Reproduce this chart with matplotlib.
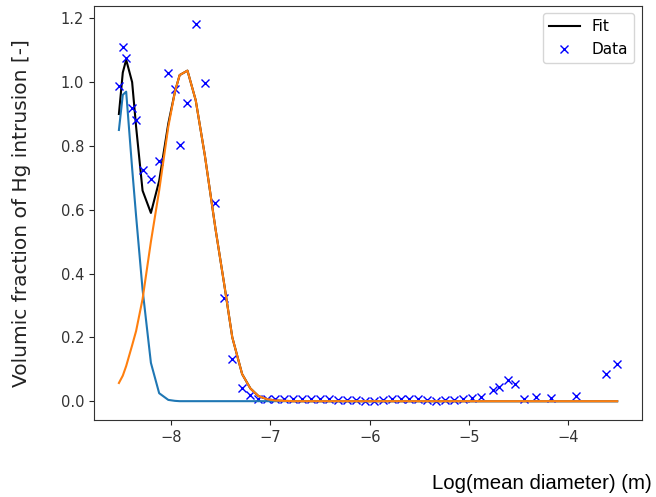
import numpy as np
import matplotlib.pyplot as plt

# log10 of mean pore diameter (m)
log_d = [-8.524, -8.485, -8.451, -8.391, -8.351, -8.286, -8.202, -8.119, -8.027, -7.960,
         -7.913, -7.834, -7.751, -7.659, -7.552, -7.466, -7.383, -7.284, -7.201, -7.12,
         -7.03, -6.95, -6.86, -6.77, -6.68, -6.59, -6.50, -6.41, -6.32, -6.23,
         -6.14, -6.05, -5.96, -5.87, -5.78, -5.69, -5.60, -5.51, -5.42, -5.33,
         -5.24, -5.15, -5.06, -4.97, -4.88, -4.763, -4.697, -4.607, -4.540, -4.448,
         -4.33, -4.18, -3.92, -3.62, -3.51]

# measured volumic fraction
frac = [0.988, 1.110, 1.076, 0.920, 0.880, 0.726, 0.695, 0.752, 1.027, 0.978,
        0.804, 0.935, 1.181, 0.998, 0.622, 0.322, 0.131, 0.040, 0.019, 0.008,
        0.006, 0.007, 0.007, 0.006, 0.007, 0.006, 0.007, 0.006, 0.005, 0.004,
        0.003, 0.002, 0.002, 0.003, 0.007, 0.008, 0.007, 0.006, 0.003, 0.002,
        0.003, 0.004, 0.006, 0.009, 0.013, 0.034, 0.043, 0.066, 0.055, 0.006,
        0.012, 0.010, 0.017, 0.085, 0.115]

# first mode (small pores)
mode1 = [0.85, 0.96, 0.97, 0.73, 0.58, 0.35, 0.12, 0.025, 0.004, 0.001,
         0.0, 0.0, 0.0, 0.0, 0.0, 0.0, 0.0, 0.0, 0.0, 0.0,
         0.0, 0.0, 0.0, 0.0, 0.0, 0.0, 0.0, 0.0, 0.0, 0.0,
         0.0, 0.0, 0.0, 0.0, 0.0, 0.0, 0.0, 0.0, 0.0, 0.0,
         0.0, 0.0, 0.0, 0.0, 0.0, 0.0, 0.0, 0.0, 0.0, 0.0,
         0.0, 0.0, 0.0, 0.0, 0.0]

# second mode
mode2 = [0.057, 0.08, 0.11, 0.175, 0.22, 0.32, 0.50, 0.66, 0.86, 0.97,
         1.022, 1.036, 0.943, 0.77, 0.54, 0.37, 0.20, 0.085, 0.04, 0.016,
         0.006, 0.002, 0.001, 0.0, 0.0, 0.0, 0.0, 0.0, 0.0, 0.0,
         0.0, 0.0, 0.0, 0.0, 0.0, 0.0, 0.0, 0.0, 0.0, 0.0,
         0.0, 0.0, 0.0, 0.0, 0.0, 0.0, 0.0, 0.0, 0.0, 0.0,
         0.0, 0.0, 0.0, 0.0, 0.0]

# total fit
fit = [0.90, 1.03, 1.07, 1.00, 0.86, 0.66, 0.59, 0.69, 0.87, 0.97,
       1.022, 1.036, 0.943, 0.77, 0.54, 0.37, 0.20, 0.085, 0.04, 0.016,
       0.006, 0.002, 0.001, 0.0, 0.0, 0.0, 0.0, 0.0, 0.0, 0.0,
       0.0, 0.0, 0.0, 0.0, 0.0, 0.0, 0.0, 0.0, 0.0, 0.0,
       0.0, 0.0, 0.0, 0.0, 0.0, 0.0, 0.0, 0.0, 0.0, 0.0,
       0.0, 0.0, 0.0, 0.0, 0.0]

fig = plt.figure(figsize=(6.56, 4.97), dpi=100)
ax = fig.add_axes([0.1433, 0.1549, 0.8354, 0.8340])

ax.plot(log_d, fit, 'k', label='Fit')
ax.plot(log_d, frac, 'bx', label='Data')
ax.plot(log_d, mode1, color='C0')
ax.plot(log_d, mode2, color='C1')
ax.legend(loc='upper right', fontsize=11)
ax.tick_params(labelsize=10.5, colors='#222222', labelcolor='#333333')
for s in ax.spines.values():
    s.set_color('#333333')

ax.set_ylabel('Volumic fraction of Hg intrusion [-]', fontsize=14.5, color='#222222')
ax.yaxis.set_label_coords(-0.115, 0.5)
fig.text(0.994, 0.028, 'Log(mean diameter) (m)', ha='right', va='center',
         fontsize=14.7, family='Liberation Sans')

fig.savefig('out.png', dpi=100)
